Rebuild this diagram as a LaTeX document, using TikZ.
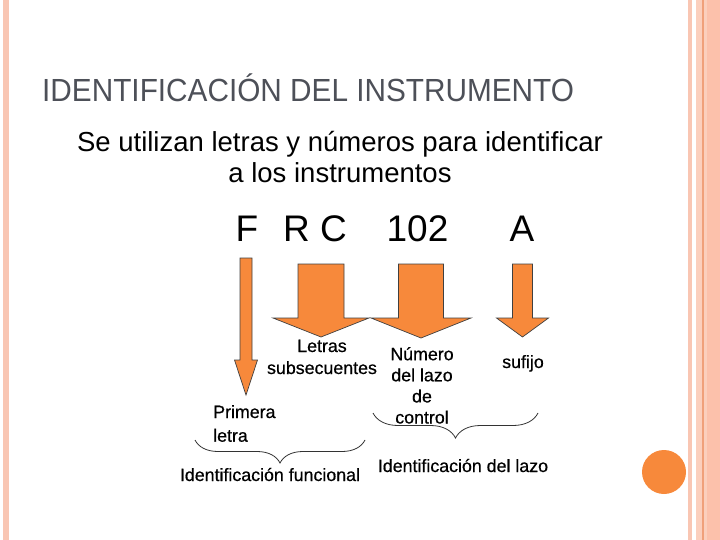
\documentclass[tikz,border=0pt]{standalone}
\usepackage{fontspec}
\setmainfont{Liberation Sans}
\newfontfamily\titlefont[FakeStretch=0.93]{Liberation Sans}
\newfontfamily\lblfont[FakeBold=0.6]{Liberation Sans}
\usepackage{xcolor}
\usetikzlibrary{decorations.pathreplacing}
\definecolor{flame}{HTML}{F7893B}
\definecolor{blush}{HTML}{F9C6B3}
\definecolor{blushlt}{HTML}{FBCFBD}
\definecolor{blushdk}{HTML}{FCC1AB}
\definecolor{rust}{HTML}{F0A07A}
\definecolor{slate}{HTML}{4D5058}
\newcommand{\blockarrow}[6]{%
  \filldraw[barrow] ({#1-#3},#2) -- ({#1+#3},#2) -- ({#1+#3},#4) -- ({#1+#5},#4)
    -- (#1,#6) -- ({#1-#5},#4) -- ({#1-#3},#4) -- cycle;}

\begin{document}
\begin{tikzpicture}[
  x=1pt, y=-1pt,
  barrow/.style={fill=flame, draw=black!75, line width=0.7pt, line join=miter},
  big/.style={font=\fontsize{37}{40}\selectfont, inner sep=0pt, anchor=base},
  lbl/.style={font=\lblfont\fontsize{17.8}{22}\selectfont, inner sep=0pt, align=center, anchor=base},
  curly/.style={draw=black!80, line width=0.8pt, decorate,
                decoration={brace, mirror, amplitude=#1}}
]
\useasboundingbox (0,0) rectangle (720,540);
\fill[blush] (3,0) rectangle (9,540);
\fill[blush] (688,0) rectangle (692,540);
\fill[blushlt] (696,0) rectangle (720,540);
\fill[blushdk] (707,0) rectangle (720,540);
\fill[rust] (702,0) rectangle (703.5,540);
\fill[flame] (664,472) circle (22);

\node[anchor=base west, inner sep=0pt, text=slate,
      font=\titlefont\fontsize{32}{36}\selectfont] (title) at (42,102)
  {IDENTIFICACIÓN DEL INSTRUMENTO};
\node[lbl, font=\normalfont\fontsize{27.5}{31}\selectfont] (intro) at (340,183)
  {Se utilizan letras y números para identificar\\ a los instrumentos};

\node[big] (tagF) at (247,241) {F};
\node[big] (tagRC) at (315,241) {R C};
\node[big] (tagnum) at (417.5,241) {102};
\node[big] (tagA) at (522,241) {A};

\blockarrow{246}{258}{6}{360}{11.5}{395}
\blockarrow{321}{264}{23}{318}{48}{337}
\blockarrow{421}{264}{22.5}{318}{50}{338}
\blockarrow{522.5}{264}{10}{318}{26}{337}

\node[lbl] (letras) at (322,374) {Letras\\ subsecuentes};
\node[lbl, font=\lblfont\fontsize{17.8}{21.1}\selectfont] (numero) at (422,423.5)
  {Número\\ del lazo\\ de\\ control};
\node[lbl] (sufijo) at (523,368) {sufijo};
\node[lbl, align=left, anchor=base west, font=\lblfont\fontsize{17.8}{23.7}\selectfont]
  (primera) at (213,441.7) {Primera\\ letra};

\draw[curly=23] (195,440) -- (365,440);
\draw[curly=25] (373,413) -- (538,413);

\node[lbl] (funcional) at (270,481) {Identificación funcional};
\node[lbl] (lazo) at (463,472) {Identificación del lazo};
\end{tikzpicture}
\end{document}
